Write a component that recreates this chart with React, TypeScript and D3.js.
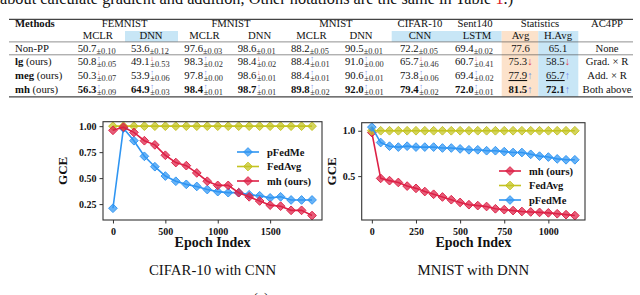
import React, { useEffect, useRef } from "react";
import * as d3 from "d3";

const SERIF = "'Liberation Serif', 'Times New Roman', serif";

// ---------- Table data ----------
const datasetNames = ["FEMNIST", "FMNIST", "MNIST", "CIFAR-10", "Sent140"];
const modelNames = ["MCLR", "DNN", "MCLR", "DNN", "MCLR", "DNN", "CNN", "LSTM"];
const methodNames = ["Non-PP", "lg", "meg", "mh"];

const nonPPMeans = ["50.7", "53.6", "97.6", "98.6", "88.2", "90.5", "72.2", "69.4"];
const nonPPStds = ["0.10", "0.12", "0.03", "0.01", "0.05", "0.01", "0.05", "0.02"];
const lgMeans = ["50.8", "49.1", "98.3", "98.4", "88.4", "91.0", "65.7", "60.7"];
const lgStds = ["0.05", "0.53", "0.02", "0.02", "0.01", "0.00", "0.46", "0.41"];
const lgDirs = ["up", "down", "up", "down", "up", "up", "down", "down"];
const megMeans = ["50.3", "53.9", "97.8", "98.6", "88.4", "90.6", "73.8", "69.4"];
const megStds = ["0.07", "0.06", "0.00", "0.01", "0.01", "0.01", "0.06", "0.02"];
const megDirs = ["down", "up", "up", "down", "up", "up", "up", "up"];
const mhMeans = ["56.3", "64.9", "98.4", "98.7", "89.8", "92.0", "79.4", "72.0"];
const mhStds = ["0.09", "0.03", "0.01", "0.01", "0.02", "0.01", "0.02", "0.01"];
const mhDirs = ["up", "up", "up", "up", "up", "up", "up", "up"];

const avgValues = ["77.6", "75.3", "77.9", "81.5"];
const havgValues = ["65.1", "58.5", "65.7", "72.1"];
const statDirs = ["", "down", "up", "up"];
const ac4ppValues = ["None", "Grad. × R", "Add. × R", "Both above"];

// ---------- Chart data ----------
const cifarEpochs = [0, 100, 200, 300, 400, 500, 600, 700, 800, 900, 1000, 1100, 1200, 1300, 1400, 1500, 1600, 1700, 1800, 1900];
const cifarPFedMe = [0.21, 0.98, 0.86, 0.71, 0.61, 0.52, 0.47, 0.44, 0.42, 0.39, 0.37, 0.36, 0.36, 0.34, 0.33, 0.31, 0.32, 0.29, 0.29, 0.29];
const cifarFedAvg = [1.0, 1.0, 1.0, 1.0, 1.0, 1.0, 1.0, 1.0, 1.0, 1.0, 1.0, 1.0, 1.0, 1.0, 1.0, 1.0, 1.0, 1.0, 1.0, 1.0];
const cifarMh = [0.96, 0.99, 0.94, 0.86, 0.82, 0.72, 0.65, 0.62, 0.55, 0.47, 0.43, 0.43, 0.36, 0.32, 0.28, 0.24, 0.23, 0.19, 0.19, 0.14];
const cifarXTicks = [0, 500, 1000, 1500];
const cifarYTicks = [0.25, 0.5, 0.75, 1.0];

const mnistEpochs = [0, 50, 100, 150, 200, 250, 300, 350, 400, 450, 500, 550, 600, 650, 700, 750, 800, 850, 900, 950, 1000, 1050, 1100, 1150];
const mnistMh = [0.98, 0.475, 0.45, 0.43, 0.39, 0.365, 0.33, 0.3, 0.27, 0.24, 0.21, 0.185, 0.175, 0.165, 0.14, 0.13, 0.12, 0.11, 0.105, 0.1, 0.095, 0.085, 0.075, 0.065];
const mnistFedAvg = [1.0, 1.0, 1.0, 1.0, 1.0, 1.0, 1.0, 1.0, 1.0, 1.0, 1.0, 1.0, 1.0, 1.0, 1.0, 1.0, 1.0, 1.0, 1.0, 1.0, 1.0, 1.0, 1.0, 1.0];
const mnistPFedMe = [1.04, 0.87, 0.83, 0.82, 0.83, 0.82, 0.82, 0.82, 0.81, 0.81, 0.8, 0.79, 0.79, 0.78, 0.78, 0.77, 0.76, 0.76, 0.74, 0.72, 0.71, 0.69, 0.68, 0.68];
const mnistXTicks = [0, 250, 500, 750, 1000];
const mnistYTicks = [0.5, 1.0];

const BLUE = "#2f95f2";
const RED = "#dd2146";
const YELLOW = "#c4c321";
const UP = "#7389ee";
const DOWN = "#e2404e";

type Sel = d3.Selection<any, any, any, any>;

function drawTable(root: Sel) {
  const g = root.append("g").attr("font-family", SERIF).attr("fill", "#111");
  const FS = 10.7;
  const SUB = 8.4;
  const meanW = 1.75 * FS;

  // caption text partially visible at top
  const cap = g.append("text").attr("x", 0).attr("y", 3.8).attr("font-size", 16.3);
  cap.append("tspan").text("about calculate gradient and addition, Other notations are the same in Table ");
  cap.append("tspan").attr("fill", "#e0202a").text("1");
  cap.append("tspan").text(".)");

  const rowY = [51.5, 65, 79, 93];
  const headY1 = 27;
  const headY2 = 38.6;
  const valStart = [77.7, 131, 184.3, 237.7, 291, 345, 400, 455];
  const modelCenters = [97.8, 151, 204.5, 259.7, 311.5, 361, 420, 477];
  const dsCenters = [124.7, 231, 336, 420, 475];
  const avgX = 520.5, havgX = 558, acX = 607;

  // backgrounds
  const bg = [
    { x0: 125, x1: 178, y0: 31, y1: 41.7, c: "#c8e6f6" },
    { x0: 391.7, x1: 501.7, y0: 31, y1: 41.7, c: "#c8e6f6" },
    { x0: 501.7, x1: 538.3, y0: 31, y1: 96.8, c: "#fce2cb" },
    { x0: 538.3, x1: 578.3, y0: 31, y1: 96.8, c: "#c8e6f6" },
  ];
  g.selectAll("rect.bg").data(bg).enter().append("rect")
    .attr("x", (d) => d.x0).attr("y", (d) => d.y0)
    .attr("width", (d) => d.x1 - d.x0).attr("height", (d) => d.y1 - d.y0)
    .attr("fill", (d) => d.c);

  // rules
  const rules = [
    { y: 19.3, w: 1.3 },
    { y: 41.9, w: 0.6 },
    { y: 54.8, w: 0.6 },
    { y: 96.9, w: 1.3 },
  ];
  g.selectAll("line.rule").data(rules).enter().append("line")
    .attr("x1", 9).attr("x2", 633).attr("y1", (d) => d.y).attr("y2", (d) => d.y)
    .attr("stroke", "#444").attr("stroke-width", (d) => d.w);

  // headers
  g.append("text").attr("x", 15).attr("y", headY1).attr("font-size", FS).attr("font-weight", "bold").text("Methods");
  datasetNames.forEach((n, i) => {
    g.append("text").attr("x", dsCenters[i]).attr("y", headY1).attr("font-size", FS).attr("text-anchor", "middle").text(n);
  });
  g.append("text").attr("x", 540).attr("y", headY1).attr("font-size", FS).attr("text-anchor", "middle").text("Statistics");
  g.append("text").attr("x", acX).attr("y", headY1).attr("font-size", FS).attr("text-anchor", "middle").text("AC4PP");
  modelNames.forEach((n, i) => {
    g.append("text").attr("x", modelCenters[i]).attr("y", headY2).attr("font-size", FS).attr("text-anchor", "middle").text(n);
  });
  g.append("text").attr("x", avgX).attr("y", headY2).attr("font-size", FS).attr("text-anchor", "middle").text("Avg");
  g.append("text").attr("x", havgX).attr("y", headY2).attr("font-size", FS).attr("text-anchor", "middle").text("H.Avg");

  const rows = [
    { means: nonPPMeans, stds: nonPPStds, dirs: null as null | string[], bold: false },
    { means: lgMeans, stds: lgStds, dirs: lgDirs, bold: false },
    { means: megMeans, stds: megStds, dirs: megDirs, bold: false },
    { means: mhMeans, stds: mhStds, dirs: mhDirs, bold: true },
  ];

  rows.forEach((r, ri) => {
    const y = rowY[ri];
    const t = g.append("text").attr("x", 15).attr("y", y).attr("font-size", FS);
    if (ri === 0) {
      t.text(methodNames[ri]);
    } else {
      t.append("tspan").attr("font-weight", "bold").text(methodNames[ri]);
      t.append("tspan").text(" (ours)");
    }
    r.means.forEach((m, ci) => {
      const x = valStart[ci];
      g.append("text").attr("x", x).attr("y", y).attr("font-size", FS)
        .attr("font-weight", r.bold ? "bold" : "normal").text(m);
      const sx = x + meanW + (r.dirs ? 0.6 : 0);
      if (r.dirs) {
        const up = r.dirs[ci] === "up";
        g.append("text").attr("x", sx).attr("y", y - 4).attr("font-size", 7.5)
          .attr("fill", up ? UP : DOWN).text(up ? "↑" : "↓");
      }
      g.append("text").attr("x", sx).attr("y", y + 2).attr("font-size", SUB).attr("fill", "#333")
        .text("±" + r.stds[ci]);
    });
    [
      { v: avgValues[ri], cx: avgX },
      { v: havgValues[ri], cx: havgX },
    ].forEach((s) => {
      const tt = g.append("text").attr("x", s.cx).attr("y", y).attr("font-size", FS).attr("text-anchor", "middle");
      const num = tt.append("tspan").attr("font-weight", r.bold ? "bold" : "normal").text(s.v);
      if (ri === 2) num.attr("text-decoration", "underline");
      const dir = statDirs[ri];
      if (dir) tt.append("tspan").attr("fill", dir === "up" ? UP : DOWN).text(dir === "up" ? "↑" : "↓");
    });
    g.append("text").attr("x", acX).attr("y", y).attr("font-size", FS).attr("text-anchor", "middle").text(ac4ppValues[ri]);
  });
}

interface ChartCfg {
  left: number; right: number; top: number; bottom: number;
  epochs: number[];
  series: { name: string; values: number[]; color: string }[];
  xTicks: number[]; yTicks: number[]; yFmt: string;
  legendX: number; legendY: number; legendDy: number;
  yLabelX: number;
  caption: string;
}

function drawChart(root: Sel, c: ChartCfg) {
  const g = root.append("g").attr("font-family", SERIF);
  const [e0, e1] = d3.extent(c.epochs) as [number, number];
  const px = 0.05 * (e1 - e0);
  const x = d3.scaleLinear().domain([e0 - px, e1 + px]).range([c.left, c.right]);
  const all = c.series.flatMap((s) => s.values);
  const [v0, v1] = d3.extent(all) as [number, number];
  const py = 0.05 * (v1 - v0);
  const y = d3.scaleLinear().domain([v0 - py, v1 + py]).range([c.bottom, c.top]);

  const xa = g.append("g").attr("transform", `translate(0,${c.bottom})`)
    .call(d3.axisBottom(x).tickValues(c.xTicks).tickSize(3.5).tickPadding(4.5).tickFormat(d3.format("d")) as any);
  const ya = g.append("g").attr("transform", `translate(${c.left},0)`)
    .call(d3.axisLeft(y).tickValues(c.yTicks).tickSize(3.5).tickPadding(3).tickFormat(d3.format(c.yFmt)) as any);
  [xa, ya].forEach((a) => {
    a.select(".domain").remove();
    a.selectAll(".tick line").attr("stroke", "#333").attr("stroke-width", 1);
    a.selectAll(".tick text").attr("font-family", SERIF).attr("font-weight", "bold")
      .attr("font-size", 10).attr("fill", "#111");
  });

  const line = d3.line<number>().x((_, i) => x(c.epochs[i])).y((d) => y(d));
  const sym = d3.symbol().type(d3.symbolSquare).size(38)();
  c.series.forEach((s) => {
    g.append("path").attr("d", line(s.values) as string).attr("fill", "none")
      .attr("stroke", s.color).attr("stroke-width", 1.6);
    g.append("g").selectAll("path").data(s.values).enter().append("path")
      .attr("d", sym as string)
      .attr("transform", (d, i) => `translate(${x(c.epochs[i])},${y(d)}) rotate(45)`)
      .attr("fill", s.color).attr("fill-opacity", 0.72)
      .attr("stroke", s.color).attr("stroke-width", 0.9);
  });

  g.append("rect").attr("x", c.left).attr("y", c.top)
    .attr("width", c.right - c.left).attr("height", c.bottom - c.top)
    .attr("fill", "none").attr("stroke", "#333").attr("stroke-width", 1.1);

  c.series.forEach((s, i) => {
    const ly = c.legendY + i * c.legendDy;
    g.append("line").attr("x1", c.legendX).attr("x2", c.legendX + 22).attr("y1", ly).attr("y2", ly)
      .attr("stroke", s.color).attr("stroke-width", 1.6);
    g.append("path").attr("d", sym as string)
      .attr("transform", `translate(${c.legendX + 11},${ly}) rotate(45)`)
      .attr("fill", s.color).attr("fill-opacity", 0.72).attr("stroke", s.color).attr("stroke-width", 0.9);
    g.append("text").attr("x", c.legendX + 30).attr("y", ly + 3.5).attr("font-size", 10.5)
      .attr("font-weight", "bold").attr("fill", "#111").text(s.name);
  });

  const cx = (c.left + c.right) / 2;
  g.append("text").attr("x", cx).attr("y", 247).attr("text-anchor", "middle")
    .attr("font-size", 14).attr("font-weight", "bold").attr("fill", "#111").text("Epoch Index");
  const cy = (c.top + c.bottom) / 2;
  g.append("text").attr("transform", `translate(${c.yLabelX},${cy}) rotate(-90)`)
    .attr("text-anchor", "middle").attr("font-size", 13).attr("font-weight", "bold").attr("fill", "#111").text("GCE");
  g.append("text").attr("x", cx).attr("y", 275).attr("text-anchor", "middle")
    .attr("font-size", 14.8).attr("fill", "#111").text(c.caption);
}

export default function App() {
  const ref = useRef<SVGSVGElement>(null);
  useEffect(() => {
    const svg = d3.select(ref.current);
    svg.selectAll("*").remove();
    drawTable(svg);
    drawChart(svg, {
      left: 103, right: 322, top: 121.7, bottom: 220,
      epochs: cifarEpochs,
      series: [
        { name: "pFedMe", values: cifarPFedMe, color: BLUE },
        { name: "FedAvg", values: cifarFedAvg, color: YELLOW },
        { name: "mh (ours)", values: cifarMh, color: RED },
      ],
      xTicks: cifarXTicks, yTicks: cifarYTicks, yFmt: ".2f",
      legendX: 237, legendY: 152, legendDy: 14.5,
      yLabelX: 67,
      caption: "CIFAR-10 with CNN",
    });
    drawChart(svg, {
      left: 361.7, right: 585, top: 122.7, bottom: 220,
      epochs: mnistEpochs,
      series: [
        { name: "mh (ours)", values: mnistMh, color: RED },
        { name: "FedAvg", values: mnistFedAvg, color: YELLOW },
        { name: "pFedMe", values: mnistPFedMe, color: BLUE },
      ],
      xTicks: mnistXTicks, yTicks: mnistYTicks, yFmt: ".1f",
      legendX: 499, legendY: 171, legendDy: 14.5,
      yLabelX: 336,
      caption: "MNIST with DNN",
    });
    svg.append("text").attr("x", 261).attr("y", 302.5).attr("text-anchor", "middle")
      .attr("font-family", SERIF).attr("font-size", 14).attr("fill", "#111").text("(c)");
  }, []);
  return (
    <svg ref={ref} width={640} height={295}
      style={{ position: "absolute", left: 0, top: 0, background: "#fff" }} />
  );
}
